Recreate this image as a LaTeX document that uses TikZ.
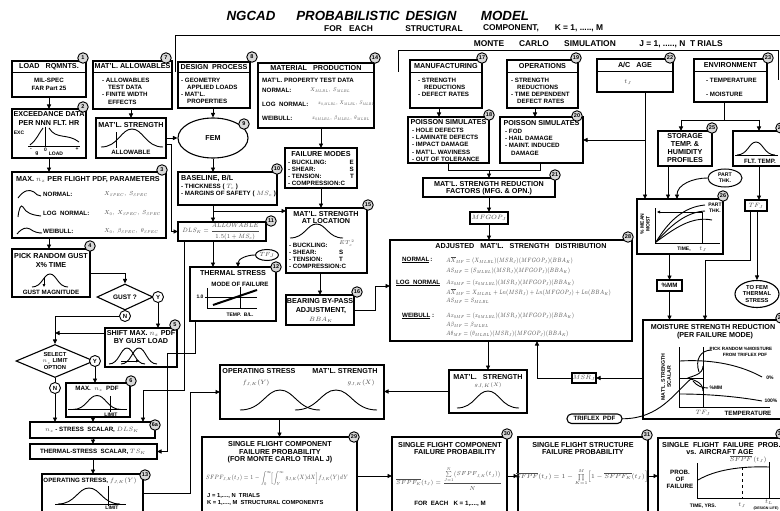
\RequirePackage{fix-cm}
\documentclass[tikz,border=0pt]{standalone}
\usepackage{amsmath}
\usepackage{graphicx}
\usepackage[no-math]{fontspec}
\setmainfont{Liberation Sans}
\usetikzlibrary{shapes.geometric,arrows.meta,calc}
\newcounter{tn}
\newcommand\tx[3][]{\stepcounter{tn}\node[#1] (t\arabic{tn}) at (#2) {#3};}
\newcommand\BX[6][]{\node[bx,minimum width={(#4)-(#2)},minimum height={(#5)-(#3)},#1] (#6) at ({((#2)+(#4))/2},{((#3)+(#5))/2}) {};}
\newcommand\bellc[5][]{\draw[crv,#1] (#2,#4) .. controls ({#2+0.28*(#3-#2)},#4) and ({#2+0.32*(#3-#2)},{#4-#5}) .. ({(#2+#3)/2},{#4-#5}) .. controls ({#3-0.32*(#3-#2)},{#4-#5}) and ({#3-0.28*(#3-#2)},#4) .. (#3,#4);}
\newcommand\gm[1]{{\color{black!70}$#1$}}
\newcommand\fs[2]{\scalebox{#1}[1]{#2}}
\tikzset{
 bx/.style={draw,line width=1.1pt,inner sep=0pt,outer sep=0pt},
 ln/.style={line width=0.9pt},
 crv/.style={line width=0.9pt},
 arr/.style={line width=0.9pt,-{Triangle[length=4.5pt,width=4pt]}},
 num/.style={circle,draw,line width=0.9pt,fill=black!15,inner sep=0pt,minimum size=10.5pt,font=\fontsize{5.5}{6}\selectfont\bfseries},
 yn/.style={circle,draw,line width=0.9pt,fill=white,inner sep=0pt,minimum size=11pt,font=\fontsize{6}{6}\selectfont\bfseries},
 hd/.style={font=\fontsize{7.2}{8}\selectfont\bfseries,inner sep=0pt,align=center},
 bd/.style={font=\fontsize{6.2}{7}\selectfont\bfseries,inner sep=0pt,align=center},
 sm/.style={font=\fontsize{5}{5.8}\selectfont\bfseries,inner sep=0pt,align=center},
 mth/.style={font=\fontsize{6.2}{7}\selectfont,text=black!70,inner sep=0pt},
 ttl/.style={font=\fontsize{13.3}{14}\selectfont\bfseries\itshape,inner sep=0pt},
 subt/.style={font=\fontsize{8.4}{9}\selectfont\bfseries,inner sep=0pt},
 lft/.style={anchor=west},
 rgt/.style={anchor=east},
}
\begin{document}
\begin{tikzpicture}[x=1pt,y=-1pt]
\clip (0,0) rectangle (780,511);
\fill[white] (0,0) rectangle (780,511);
% ---------- titles ----------
\tx[ttl]{251,16}{NGCAD}
\tx[ttl]{348,16}{PROBABILISTIC}
\tx[ttl]{431,16}{DESIGN}
\tx[ttl]{505,16}{MODEL}
\tx[subt]{333,28.5}{FOR}
\tx[subt]{361,28.5}{EACH}
\tx[subt]{434,28.5}{STRUCTURAL}
\tx[subt]{511,28.5}{COMPONENT,}
\tx[subt]{579,28.5}{K = 1, ....., M}
\draw[ln] (175,72) -- (175,35) -- (780,35);
\tx[subt]{489,44}{MONTE}
\tx[subt]{534,44}{CARLO}
\tx[subt]{590,44}{SIMULATION}
\tx[subt]{681,44}{J = 1, ....., N\ \ T RIALS}
\draw[ln] (398,72) -- (398,50) -- (778,50) -- (778,80);
% ---------- helper coordinates ----------
\coordinate (X49) at (49,0);
\coordinate (X93) at (93,0);
\coordinate (X238) at (238,0);
\coordinate (X439) at (439,0);
\coordinate (X535) at (535,0);
\coordinate (X645) at (645,0);
\coordinate (X668) at (668,0);
\coordinate (X677) at (677,0);
\coordinate (X724) at (724,0);
\coordinate (X759) at (759,0);
\coordinate (pk) at (692,378);
% ---------- box 1 ----------
\BX{12}{61}{86}{97}{b1}
\draw[ln] (12,72) -- (86,72);
\tx[hd]{49,66.5}{LOAD\ \ \ RQMNTS.}
\tx[bd]{49,80}{MIL-SPEC}
\tx[bd]{49,88}{FAR Part 25}
\node[num] (c1) at (83,58) {1};
% ---------- box 2 ----------
\BX{12}{109}{86}{158}{b2}
\tx[hd]{49,114.5}{EXCEEDANCE DATA}
\tx[hd]{49,123}{PER NNN FLT. HR}
\tx[sm]{19,133}{EXC}
\draw[ln] (45,127) -- (45,147);
\draw[ln] (28,146.5) -- (80,146.5);
\draw[crv] (30,145) .. controls (36,141) and (39,133) .. (43,128);
\draw[crv] (49,128) .. controls (56,140) and (68,133) .. (79,142);
\tx[sm]{31,149.5}{-}
\tx[sm]{45.5,149.5}{0}
\tx[sm]{77,149.5}{+}
\tx[sm]{37,154}{g}
\tx[sm]{56,154}{LOAD}
\node[num] (c2) at (83,107) {2};
% ---------- box 3 ----------
\BX{12}{172}{166}{238}{b3}
\tx[hd]{88,179.5}{MAX. \gm{n_z} PER FLIGHT PDF, PARAMETERS}
\draw[crv] (18,198) .. controls (24,190) and (29,189) .. (34,192) .. controls (36,194) and (38,196) .. (41,196);
\tx[bd,lft]{43,194}{NORMAL:}
\draw[crv] (18,217) .. controls (19,208) and (21,204) .. (23,207) .. controls (26,213) and (32,215) .. (41,216);
\tx[bd,lft]{43,213}{LOG\ \ NORMAL:}
\draw[crv] (17,234) .. controls (22,228) and (26,227) .. (30,229) .. controls (34,232) and (38,233) .. (42,233);
\tx[bd,lft]{43,231}{WEIBULL:}
\tx[mth,lft,font=\fontsize{5.8}{6}\selectfont]{104,194}{\fs{0.85}{$X_{SPEC},\ S_{SPEC}$}}
\tx[mth,lft,font=\fontsize{5.8}{6}\selectfont]{104,213}{\fs{0.85}{$X_0,\ X_{SPEC},\ S_{SPEC}$}}
\tx[mth,lft,font=\fontsize{5.8}{6}\selectfont]{104,231}{\fs{0.85}{$X_0,\ \beta_{SPEC},\ \theta_{SPEC}$}}
\node[num] (c3) at (162,170) {3};
% ---------- box 4 ----------
\BX{12}{249}{90}{297}{b4}
\tx[hd]{51,256}{PICK RANDOM GUST}
\tx[hd]{51,265}{X\% TIME}
\bellc{32}{68}{287}{13}
\draw[ln,-{Triangle[length=3pt,width=2.6pt]}] (44,277) -- (44,287);
\tx[bd]{51,292}{GUST MAGNITUDE}
\node[num] (c4) at (90,246) {4};
% ---------- gust decision ----------
\node[diamond,draw,line width=1.1pt,minimum width=56pt,minimum height=26pt,inner sep=0pt,aspect=2.2,font=\fontsize{6.5}{7}\selectfont\bfseries] (gust) at (125,297) {GUST ?};
\node[yn] (y1) at (158,297) {Y};
\node[yn] (n1) at (125,316) {N};
% ---------- box 5 ----------
\BX{105}{328}{177}{367}{b5}
\tx[hd]{141,333.5}{SHIFT MAX. \gm{n_z} PDF}
\tx[hd]{141,341.5}{BY GUST LOAD}
\bellc{109}{145}{364}{16}
\bellc{121}{157}{364}{16}
\draw[ln,-{Triangle[length=3pt,width=2.6pt]}] (121,361) -- (139,361);
\node[num] (c5) at (175,325) {5};
% ---------- select decision ----------
\node[diamond,draw,line width=1.1pt,minimum width=78pt,minimum height=33pt,inner sep=0pt,aspect=2.4,font=\fontsize{5.8}{6.3}\selectfont\bfseries,align=center] (sel) at (55,361) {SELECT\\\gm{n_z} LIMIT\\OPTION};
\node[yn] (y2) at (95,361) {Y};
\node[yn] (n2) at (55,388) {N};
% ---------- box 6 ----------
\BX{66}{383}{130}{417}{b6}
\tx[bd]{97,388.5}{MAX.\ \ \gm{n_z}\ \ PDF}
\draw[ln] (68,409.5) -- (127,409.5);
\bellc{73}{121}{409.5}{14}
\draw[ln] (110,396) -- (110,412);
\tx[sm]{111,414.5}{LIMIT}
\node[num] (c6) at (131,381) {6};
% ---------- box 6a ----------
\BX{30}{422}{155}{438}{b6a}
\tx[bd]{92,430}{\gm{n_z} - STRESS\ \ SCALAR, \gm{DLS_K}}
\node[num] (c6a) at (155,425) {6a};
% ---------- thermal scalar ----------
\BX{30}{444}{157}{459}{bts}
\tx[bd]{93,451.5}{THERMAL-STRESS\ \ SCALAR, \gm{TS_K}}
% ---------- box 13 ----------
\BX{42}{474}{143}{512}{b13}
\tx[bd]{90,481}{OPERATING STRESS, \gm{f_{J,K}(Y)}}
\draw[ln] (55,504) -- (126,504);
\bellc{58}{120}{504}{16}
\draw[ln] (108,486) -- (108,506);
\tx[sm]{112,507.5}{LIMIT}
\node[num] (c13) at (145,475) {13};
% ---------- box 7 ----------
\BX{93}{61}{172}{109}{b7}
\draw[ln] (93,72) -- (172,72);
\tx[hd]{132.5,66.5}{MAT'L. ALLOWABLES}
\tx[bd,lft]{102,80}{- ALLOWABLES}
\tx[bd,lft]{108,87}{TEST DATA}
\tx[bd,lft]{102,94.5}{- FINITE WIDTH}
\tx[bd,lft]{108,102}{EFFECTS}
\node[num] (c7) at (166,58) {7};
% ---------- material strength (allowable) ----------
\BX{96}{118}{166}{158}{bms}
\tx[hd]{131,125}{MAT'L. STRENGTH}
\bellc{101}{163}{147}{18}
\draw[ln] (116,132) -- (116,148);
\tx[bd]{131,152.5}{ALLOWABLE}
% ---------- box 8 ----------
\BX{178}{62}{250}{108}{b8}
\draw[ln] (178,72) -- (250,72);
\tx[hd]{214,67}{DESIGN\ \ PROCESS}
\tx[bd,lft]{181,80}{- GEOMETRY}
\tx[bd,lft]{187,87}{APPLIED LOADS}
\tx[bd,lft]{181,94}{- MAT'L.}
\tx[bd,lft]{187,101}{PROPERTIES}
\node[num] (c8) at (252,57) {8};
% ---------- FEM ----------
\node[draw,ellipse,line width=1.1pt,minimum width=70pt,minimum height=40pt,inner sep=0pt,font=\fontsize{7.2}{8}\selectfont\bfseries] (fem) at (213,138) {FEM};
\node[num] (c9) at (244,124) {9};
% ---------- box 10 ----------
\BX{178}{172}{277}{205}{b10}
\tx[hd,lft]{181,178.5}{BASELINE, B/L}
\tx[bd,lft]{181,186.5}{- THICKNESS ( \gm{T_c} )}
\tx[bd,lft]{181,194}{- MARGINS OF SAFETY ( \gm{MS_c} )}
\node[num] (c10) at (277,169) {10};
% ---------- box 11 ----------
\BX{178}{222}{266}{241}{b11}
\tx[mth]{221,231.5}{\fs{0.88}{$DLS_K=\dfrac{ALLOWABLE}{1.5(1+MS_c)}$}}
\node[num] (c11) at (271,221) {11};
% ---------- box 12 ----------
\BX{190}{267}{276}{321}{b12}
\tx[hd]{233,273.5}{THERMAL STRESS}
\tx[bd]{240,284}{MODE OF FAILURE}
\tx[sm]{200,297}{1.0}
\draw[ln] (207,288) -- (207,308) -- (257,308);
\draw[ln] (205,297) -- (257,297);
\draw[ln] (240,287) -- (240,308);
\draw[line width=2pt] (213,305) -- (257,290);
\tx[sm]{240,315}{TEMP.\ \ B/L.}
\node[num] (c12) at (276,267) {12};
\node[draw,ellipse,line width=1pt,minimum width=23pt,minimum height=11pt,inner sep=0pt,font=\fontsize{6}{6}\selectfont,text=black!70] (tf1) at (267,255) {$TF_J$};
% ---------- box 14 ----------
\BX{258}{63}{374}{128}{b14}
\draw[ln] (258,72.5) -- (374,72.5);
\tx[hd]{316,67.7}{MATERIAL\ \ \ PRODUCTION}
\tx[bd,lft]{262,80.5}{MAT'L. PROPERTY TEST DATA}
\tx[bd,lft]{262,90.5}{NORMAL:}
\tx[mth,lft,font=\fontsize{5.4}{6}\selectfont]{310,90.5}{\fs{0.8}{$X_{MLBL},\ S_{MLBL}$}}
\tx[bd,lft]{262,104}{LOG\ \ NORMAL:}
\tx[mth,lft,font=\fontsize{5.2}{6}\selectfont]{318,104}{\fs{0.72}{$x_{0,MLBL},\ X_{MLBL},\ S_{MLBL}$}}
\tx[bd,lft]{262,118.5}{WEIBULL:}
\tx[mth,lft,font=\fontsize{5.4}{6}\selectfont]{312,118.5}{\fs{0.75}{$x_{0MLBL},\ \beta_{MLBL},\ \theta_{MLBL}$}}
\node[num] (c14) at (375,58) {14};
% ---------- failure modes ----------
\BX{285}{148}{357}{188}{bfm}
\tx[hd]{321,154.5}{FAILURE MODES}
\tx[bd,lft]{288,162.5}{- BUCKLING:}
\tx[bd,rgt]{354,162.5}{E}
\tx[bd,lft]{288,169.5}{- SHEAR:}
\tx[bd,rgt]{354,169.5}{S}
\tx[bd,lft]{288,176.5}{- TENSION:}
\tx[bd,rgt]{354,176.5}{T}
\tx[bd,lft]{288,183.5}{- COMPRESSION:C}
% ---------- box 15 ----------
\BX{286}{208}{367}{273}{b15}
\tx[hd]{326,214}{MAT'L. STRENGTH}
\tx[hd]{326,221.5}{AT LOCATION}
\bellc{290}{343}{238}{14}
\tx[bd,lft]{289,245}{- BUCKLING:}
\tx[mth,lft,font=\fontsize{5.4}{6}\selectfont]{339,243.5}{$ET_c^{\,2}$}
\tx[bd,lft]{289,252.5}{- SHEAR:}
\tx[bd,lft]{339,252.5}{S}
\tx[bd,lft]{289,259.5}{- TENSION:}
\tx[bd,lft]{339,259.5}{T}
\tx[bd,lft]{289,266.5}{- COMPRESSION:C}
\node[num] (c15) at (368,205) {15};
% ---------- box 16 ----------
\BX{286}{295}{354}{325}{b16}
\tx[hd]{320,301.5}{BEARING BY-PASS}
\tx[hd]{321,311}{ADJUSTMENT,}
\tx[mth]{321,320}{$BBA_K$}
\node[num] (c16) at (357,292) {16};
% ---------- box 17 ----------
\BX{410}{60}{482}{108}{b17}
\draw[ln] (410,72) -- (482,72);
\tx[hd]{446,66}{MANUFACTURING}
\tx[bd,lft]{418,80}{- STRENGTH}
\tx[bd,lft]{424,87}{REDUCTIONS}
\tx[bd,lft]{418,94}{- DEFECT RATES}
\node[num] (c17) at (482,58) {17};
% ---------- box 19 ----------
\BX{507}{60}{578}{108}{b19}
\draw[ln] (507,72) -- (578,72);
\tx[hd]{542.5,66}{OPERATIONS}
\tx[bd,lft]{511,80}{- STRENGTH}
\tx[bd,lft]{517,87}{REDUCTIONS}
\tx[bd,lft]{511,94}{- TIME DEPENDENT}
\tx[bd,lft]{517,101}{DEFECT RATES}
\node[num] (c19) at (576,58) {19};
% ---------- box 18 ----------
\BX{408}{117}{489}{163}{b18}
\tx[hd]{448.5,122.5}{POISSON SIMULATES}
\tx[bd,lft]{412,130}{- HOLE DEFECTS}
\tx[bd,lft]{412,137.3}{- LAMINATE DEFECTS}
\tx[bd,lft]{412,144.6}{- IMPACT DAMAGE}
\tx[bd,lft]{412,151.9}{- MAT'L. WAVINESS}
\tx[bd,lft]{412,159.2}{- OUT OF TOLERANCE}
\node[num] (c18) at (489,115) {18};
% ---------- box 20 ----------
\BX{500}{117}{583}{163}{b20}
\tx[hd]{541.5,123}{POISSON SIMULATES}
\tx[bd,lft]{505,131}{- FOD}
\tx[bd,lft]{505,138.3}{- HAIL DAMAGE}
\tx[bd,lft]{505,145.6}{- MAINT. INDUCED}
\tx[bd,lft]{511,152.9}{DAMAGE}
\node[num] (c20) at (577,116) {20};
% ---------- box 21 ----------
\BX{423}{178}{555}{197}{b21}
\tx[hd]{489,184}{MAT'L. STRENGTH REDUCTION}
\tx[hd]{489,191.8}{FACTORS (MFG. \& OPN.)}
\node[num] (c21) at (555,175) {21};
\BX{470}{212}{508}{224}{bmf}
\tx[mth]{489,218}{$MFGOP_J$}
% ---------- box 22 ----------
\BX{597}{59}{673}{92}{b22}
\draw[ln] (597,71.5) -- (673,71.5);
\tx[hd]{635,65.3}{A/C\ \ \ AGE}
\tx[mth]{628,82}{$t_J$}
\node[num] (c22) at (670,58) {22};
% ---------- box 23 ----------
\BX{694}{59}{767}{102}{b23}
\draw[ln] (694,71.5) -- (767,71.5);
\tx[hd]{730.5,65.3}{ENVIRONMENT}
\tx[bd,lft]{706,80}{- TEMPERATURE}
\tx[bd,lft]{706,94}{- MOISTURE}
\node[num] (c23) at (768,58) {23};
% ---------- box 25 ----------
\BX{658}{131}{712}{166}{b25}
\tx[hd]{685,148.5}{STORAGE\\TEMP. \&\\HUMIDITY\\PROFILES}
\node[num] (c25) at (712,128) {25};
% ---------- box 24 ----------
\BX{733}{131}{795}{166}{b24}
\draw[ln] (735,155) -- (778,155);
\bellc{737}{775}{155}{13}
\tx[bd]{760,161}{FLT. TEMP.}
\node[num] (c24) at (781,128) {24};
% ---------- part thk ----------
\node[draw,ellipse,line width=1pt,minimum width=34pt,minimum height=18pt,inner sep=0pt,font=\fontsize{5.2}{5.8}\selectfont\bfseries,align=center] (pt) at (725,178) {PART\\THK.};
% ---------- box 26 ----------
\BX{637}{199}{723}{254}{b26}
\tx[sm,rotate=90]{645,224}{\% MEAN\\MOIST}
\draw[ln] (655,208) -- (655,243) -- (720,243);
\draw[crv] (656,242) .. controls (668,222) and (683,207) .. (705,205);
\draw[crv] (656,242) .. controls (670,226) and (686,212) .. (705,211);
\draw[crv] (656,242) .. controls (675,228) and (692,216) .. (712,220);
\draw[ln,-{Triangle[length=3pt,width=2.6pt]}] (702,212) -- (657,212);
\draw[ln] (702,212) -- (702,243);
\tx[sm]{715,204.5}{PART}
\tx[sm]{715,211}{THK.}
\tx[sm]{684,249}{TIME,}
\tx[mth]{703,249}{$t_J$}
\node[num] (c26) at (723,196) {26};
% ---------- TF box, to FEM ----------
\BX{745}{200}{767}{211}{btf}
\tx[mth]{756,205.5}{$TF_J$}
\node[draw,ellipse,line width=1.1pt,minimum width=44pt,minimum height=27pt,inner sep=0pt,font=\fontsize{5.8}{6.3}\selectfont\bfseries,align=center] (fem2) at (757,294) {TO FEM\\THERMAL\\STRESS};
\BX{657}{280}{682}{291}{bmm}
\tx[bd]{669.5,285.5}{\%MM}
% ---------- box 27 ----------
\BX{643}{320}{795}{419}{b27}
\tx[hd]{713,327.5}{MOISTURE STRENGTH REDUCTION}
\tx[hd]{715,335.5}{(PER FAILURE MODE)}
\node[num] (c27) at (781,318) {27};
\tx[sm,rotate=90,font=\fontsize{5.2}{6}\selectfont\bfseries]{666,377}{MAT'L. STRENGTH\\SCALAR}
\draw[ln] (679,347) -- (679,407) -- (770,407);
\draw[ln] (703,347) -- (703,407);
\draw[crv] (680,361) .. controls (715,359) and (742,366) .. (762,377);
\draw[crv] (680,394) .. controls (710,394) and (740,397) .. (762,401);
\draw[ln] (680,378) -- (703,378);
\draw[crv] (693,381) .. controls (697,386) and (702,388) .. (708,388);
\draw[crv] (703,366) .. controls (703,375) and (692,376) .. (688,378) .. controls (692,380) and (703,381) .. (703,391);
\draw[crv] (712,350) .. controls (700,350) and (695,360) .. (699,372);
\tx[sm,font=\fontsize{4.6}{5}\selectfont\bfseries]{741,348.5}{PICK RANDOM \%MOISTURE}
\tx[sm,font=\fontsize{4.6}{5}\selectfont\bfseries]{745,355}{FROM TRIFLEX PDF}
\tx[sm]{770,378}{0\%}
\tx[sm]{716,387.5}{\%MM}
\tx[sm]{771,401}{100\%}
\tx[mth]{703,413}{$TF_J$}
\tx[bd]{748,413}{TEMPERATURE}
\BX{572}{373}{596}{383}{bmsr}
\tx[mth]{584,378}{$MSR_J$}
\BX[rounded corners=4.5pt]{567}{414}{622}{423.5}{btri}
\tx[bd]{594.5,418.7}{TRIFLEX\ \ PDF}
% ---------- box 28 ----------
\BX{390}{240}{632}{341}{b28}
\tx[hd]{521,246.5}{ADJUSTED\ \ \ MAT'L.\ \ \ STRENGTH\ \ \ DISTRIBUTION}
\node[num] (c28) at (628,237) {28};
\tx[bd,lft]{402,260}{\underline{NORMAL}\,:}
\tx[mth,lft]{446,260}{\fs{0.77}{$A\overline{X}_{MF}=(X_{MLBL})(MSR_J)(MFGOP_J)(BBA_K)$}}
\tx[mth,lft]{446,271}{\fs{0.77}{$AS_{MF}=(S_{MLBL})(MSR_J)(MFGOP_J)(BBA_K)$}}
\tx[bd,lft]{396,283}{\underline{LOG\ \ NORMAL}}
\tx[mth,lft]{446,283}{\fs{0.77}{$Ax_{0MF}=(x_{0MLBL})(MSR_J)(MFGOP_J)(BBA_K)$}}
\tx[mth,lft]{446,292.5}{\fs{0.77}{$A\overline{X}_{MF}=X_{MLBL}+\mathit{Ln}(MSR_J)+\mathit{Ln}(MFGOP_J)+\mathit{Ln}(BBA_K)$}}
\tx[mth,lft]{446,300.5}{\fs{0.77}{$AS_{MF}=S_{MLBL}$}}
\tx[bd,lft]{402,316}{\underline{WEIBULL}\ :}
\tx[mth,lft]{446,316}{\fs{0.77}{$Ax_{0MF}=(x_{0MLBL})(MSR_J)(MFGOP_J)(BBA_K)$}}
\tx[mth,lft]{446,325}{\fs{0.77}{$A\beta_{MF}=\beta_{MLBL}$}}
\tx[mth,lft]{446,333.5}{\fs{0.77}{$A\theta_{MF}=(\theta_{MLBL})(MSR_J)(MFGOP_J)(BBA_K)$}}
% ---------- material strength g ----------
\BX{449}{370}{527}{413}{bmat2}
\tx[hd]{488,377}{MAT'L.\ \ \ STRENGTH}
\tx[mth,font=\fontsize{5}{6}\selectfont]{488,385.5}{$g_{J,K}(X)$}
\bellc{457}{519}{408}{17}
% ---------- operating stress / strength ----------
\BX{220}{365}{384}{419}{bop}
\tx[hd]{259,371}{OPERATING STRESS}
\tx[hd]{345,371}{MAT'L. STRENGTH}
\tx[mth]{256,383}{$f_{J,K}(Y)$}
\tx[mth]{361,383}{$g_{J,K}(X)$}
\bellc{240}{320}{410}{20}
\bellc{295}{377}{410}{20}
% ---------- box 29 ----------
\BX{202}{437}{357}{515}{b29}
\tx[hd]{280,444}{SINGLE FLIGHT COMPONENT}
\tx[hd]{280,452}{FAILURE PROBABILITY}
\tx[hd]{280,460}{(FOR MONTE CARLO TRIAL J)}
\tx[mth]{277,478.5}{\fs{0.8}{$SFPF_{J,K}(t_J)=1-\displaystyle\int_0^{\infty}\!\Bigl[\int_Y^{\infty}g_{J,K}(X)dX\Bigr]f_{J,K}(Y)dY$}}
\tx[bd,lft,font=\fontsize{5.8}{6}\selectfont\bfseries]{207,495.5}{J = 1,...., N\ \ TRIALS}
\tx[bd,lft,font=\fontsize{5.8}{6}\selectfont\bfseries]{207,503}{K = 1,...., M\ \ STRUCTURAL COMPONENTS}
\node[num] (c29) at (354,437) {29};
% ---------- box 30 ----------
\BX{392}{437}{507}{515}{b30}
\tx[hd]{450,445}{SINGLE FLIGHT COMPONENT}
\tx[hd]{455,452.5}{FAILURE PROBABILITY}
\tx[mth,font=\fontsize{5.8}{6.5}\selectfont]{449,478.5}{\fs{0.9}{$\overline{SFPF_K}(t_J)=\dfrac{\sum\limits_{J=1}^{N}\bigl(SFPF_{J,K}(t_J)\bigr)}{N}$}}
\tx[bd]{450,504}{FOR\ \ EACH\ \ \ K = 1,...., M}
\node[num] (c30) at (507,434) {30};
% ---------- box 31 ----------
\BX{518}{437}{648}{515}{b31}
\tx[hd]{583,445}{SINGLE FLIGHT STRUCTURE}
\tx[hd]{583,452.5}{FAILURE PROBABILITY}
\tx[mth]{582,477}{$\overline{SFPF}(t_J)=1-\prod\limits_{K=1}^{M}\Bigl[1-\overline{SFPF_K}(t_J)\Bigr]$}
\node[num] (c31) at (647,435) {31};
% ---------- box 32 ----------
\BX{658}{438}{795}{515}{b32}
\tx[hd,lft]{662,445}{SINGLE\ \ FLIGHT\ \ FAILURE\ \ PROB.}
\tx[hd]{720,452.5}{vs. AIRCRAFT AGE}
\tx[mth]{748,459}{$\overline{SFPF}\,(t_J)$}
\draw[ln] (697,463) -- (697,498) -- (780,498);
\draw[crv] (698,480) .. controls (715,470) and (740,466) .. (769,467);
\draw[ln,dashed] (742,467) -- (742,498);
\draw[ln] (769,462) -- (769,498);
\tx[bd]{680,479}{PROB.\\OF\\FAILURE}
\tx[sm]{703,506}{TIME, YRS.}
\tx[mth]{742,505}{$t_J$}
\tx[mth]{769,502}{$t_L$}
\tx[sm,font=\fontsize{3.6}{4}\selectfont\bfseries]{766,508.3}{(DESIGN LIFE)}
\node[num] (c32) at (781,434) {32};
% ================= connectors =================
\draw[arr] (b1.south) -- (b2.north);
\draw[arr] (b2.south) -- (b2.south |- b3.north);
\draw[arr] (b3.south -| X49) -- (b4.north -| X49);
\draw[arr] (b4.east) -| (gust.north);
\draw[arr] (y1.south) -- (y1.south |- b5.north);
\draw[arr] (n1.west) -| (sel.north);
\coordinate (b5w) at ([yshift=-5pt]b5.north west);
\draw[arr] (b5w) -- (b5w -| sel.north);
\draw[ln] (sel.south) -- (n2.north);
\draw[arr] (y2.south) -- (y2.south |- b6.north);
\draw[arr] (n2.south) -- (n2.south |- b6a.north);
\draw[arr] (b6.south -| X93) -- (b6a.north -| X93);
\draw[arr] (b6a.south -| X93) -- (bts.north -| X93);
\draw[arr] (bts.south -| X93) -- (b13.north -| X93);
\coordinate (k1) at (184,390); \coordinate (k2) at (143,390);
\draw[arr] (b11.south -| k1) -- (k1) -- (k2) -- (b6a.north -| k2);
\coordinate (k3) at (195,353); \coordinate (k4) at (167,353);
\draw[arr] (b12.south -| k3) -- (k3) -- (k4) |- (bts.east);
\coordinate (k5) at (171,144);
\draw[arr] (bms.east |- k5) -- (k5) |- (b11.west);
\draw[arr] (bms.east) -- (fem.west);
\draw[arr] (b7.south -| bms.north) -- (bms.north);
\draw[arr] (b8.south -| fem.north) -- (fem.north);
\draw[arr] (fem.south) -- (fem.south |- b10.north);
\draw[arr] (b10.south -| fem.south) -- (b11.north -| fem.south);
\coordinate (k6) at (213,211);
\draw[arr] (k6) -- (k6 -| b15.west);
\draw[arr] (b11.south -| fem.south) -- (b12.north -| fem.south);
\draw[arr] (tf1.west) to[out=180,in=90] (b12.north -| X238);
\draw[arr] (b14.south -| bfm.north) -- (bfm.north);
\draw[arr] (bfm.south) -- (bfm.south |- b15.north);
\draw[arr] (b15.south -| b16.north) -- (b16.north);
\coordinate (k8) at (375,286);
\draw[arr] (b16.east) -| (k8) -- (k8 -| b28.west);
\draw[arr] (b17.south -| X439) -- (b18.north -| X439);
\draw[arr] (b19.south -| X535) -- (b20.north -| X535);
\coordinate (k9) at (448,170); \coordinate (k10) at (540,170);
\draw[ln] (b18.south -| k9) -- (k9) -- (k10) -- (b20.south -| k10);
\draw[arr] (k9 -| b21.north) -- (b21.north);
\draw[arr] (b21.south) -- (bmf.north);
\draw[arr] (bmf.south) -- (bmf.south |- b28.north);
\draw[arr] (b22.south -| X645) -- (b26.north -| X645);
\draw[arr] (b20.east -| X645) -- (b20.east);
\coordinate (k11) at (681,120); \coordinate (k12) at (759,120);
\draw[ln] (b23.south -| X724) -- (X724 |- k11);
\draw[ln] (k11) -- (k12);
\draw[arr] (k11) -- (b25.north -| k11);
\draw[arr] (k12) -- (b24.north -| k12);
\draw[arr] (b25.south -| X668) -- (b26.north -| X668);
\draw[arr] (pt.west) to[out=180,in=90] (b26.north -| X677);
\draw[arr] (b24.south -| X759) -- (btf.north -| X759);
\draw[arr] (btf.south -| fem2.north) -- (fem2.north);
\coordinate (k13) at (750,260); \coordinate (k14) at (705,260);
\draw[arr] (btf.south -| k13) -- (k13) -- (k14) -- (b27.north -| k14);
\draw[arr] (b26.south -| bmm.north) -- (bmm.north);
\draw[arr] (bmm.south) -- (bmm.south |- b27.north);
\draw[arr] (b27.west |- bmsr.east) -- (bmsr.east);
\coordinate (k15) at (537,378);
\draw[arr] (bmsr.west) -- (k15) -- (k15 |- b28.south);
\draw[ln] (btri.east) .. controls (660,419) and (675,392) .. (pk);
\draw[arr] (b28.south -| bmat2.north) -- (bmat2.north);
\draw[arr] (bmat2.west) -- (bmat2.west -| bop.east);
\draw[arr] (b13.east) -- ++(47,0) |- (bop.west);
\draw[arr] (bop.south -| b29.north) -- (b29.north);
\draw[arr] (b29.east) -- (b30.west);
\draw[arr] (b30.east) -- (b31.west);
\draw[arr] (b31.east) -- (b31.east -| b32.west);
\end{tikzpicture}
\end{document}
